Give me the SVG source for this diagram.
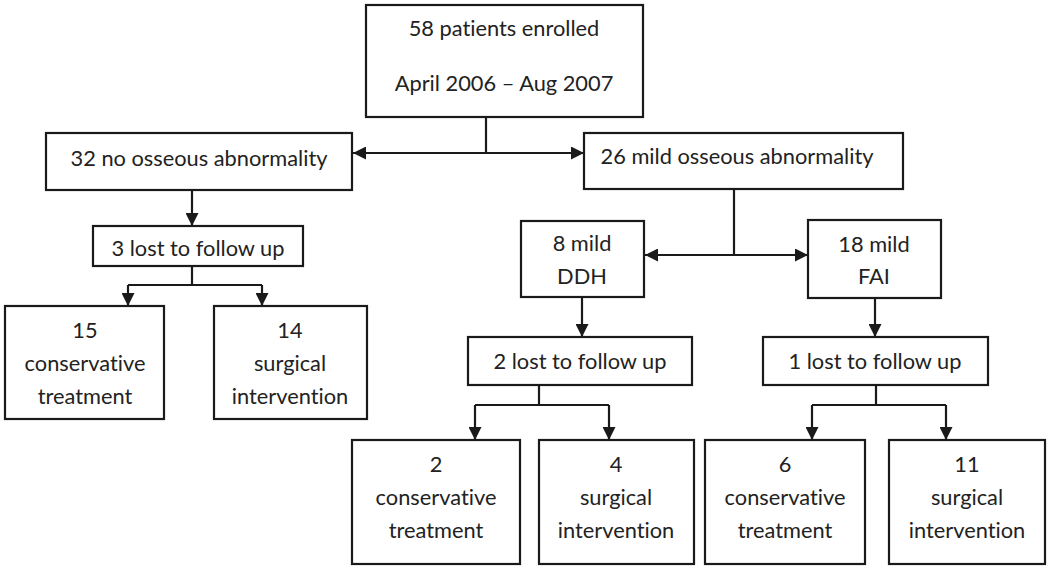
<svg xmlns="http://www.w3.org/2000/svg" width="1050" height="568" viewBox="0 0 1050 568">
<style>
.box{fill:#fff;stroke:#1a1a1a;stroke-width:2.2}
.t{font-family:Lato,"Open Sans",sans-serif;font-size:21.8px;fill:#222;text-anchor:middle;font-variant-ligatures:none;font-feature-settings:"liga" 0,"dlig" 0}
.c{fill:none;stroke:#1a1a1a;stroke-width:2.2}
</style>
<defs>
<marker id="ah" viewBox="0 0 13 13" refX="13" refY="6.5" markerWidth="13" markerHeight="13" markerUnits="userSpaceOnUse" orient="auto">
<path d="M0,0 L13,6.5 L0,13 Z" fill="#1a1a1a"/>
</marker>
</defs>
<rect width="1050" height="568" fill="#fff"/>
<g id="connectors">
<path class="c" d="M486,117 V153"/>
<path class="c" d="M486,153 H353" marker-end="url(#ah)"/>
<path class="c" d="M486,153 H584" marker-end="url(#ah)"/>
<path class="c" d="M192,190 V226" marker-end="url(#ah)"/>
<path class="c" d="M192,266 V285 M128,285 H262"/>
<path class="c" d="M128,285 V306" marker-end="url(#ah)"/>
<path class="c" d="M262,285 V306" marker-end="url(#ah)"/>
<path class="c" d="M734,189 V255"/>
<path class="c" d="M734,255 H645" marker-end="url(#ah)"/>
<path class="c" d="M734,255 H808" marker-end="url(#ah)"/>
<path class="c" d="M582,297 V337" marker-end="url(#ah)"/>
<path class="c" d="M875,298 V337" marker-end="url(#ah)"/>
<path class="c" d="M539,385 V405 M475,405 H609"/>
<path class="c" d="M475,405 V440" marker-end="url(#ah)"/>
<path class="c" d="M609,405 V440" marker-end="url(#ah)"/>
<path class="c" d="M876,385 V405 M812,405 H946"/>
<path class="c" d="M812,405 V440" marker-end="url(#ah)"/>
<path class="c" d="M946,405 V440" marker-end="url(#ah)"/>
</g>
<g id="n-enrolled">
<rect class="box" x="366" y="5" width="277" height="112"/>
<text class="t" x="504" y="36">58 patients enrolled</text>
<text class="t" x="504" y="91">April 2006 – Aug 2007</text>
</g>
<g id="n-no-osseous">
<rect class="box" x="46" y="133" width="306" height="57"/>
<text class="t" x="199" y="166">32 no osseous abnormality</text>
</g>
<g id="n-mild-osseous">
<rect class="box" x="584" y="133" width="319" height="56"/>
<text class="t" x="737" y="164">26 mild osseous abnormality</text>
</g>
<g id="n-lost3">
<rect class="box" x="93" y="226" width="210" height="40"/>
<text class="t" x="198" y="256">3 lost to follow up</text>
</g>
<g id="n-cons15">
<rect class="box" x="5" y="306" width="159" height="113"/>
<text class="t" x="85" y="338">15</text>
<text class="t" x="85" y="371">conservative</text>
<text class="t" x="85" y="404">treatment</text>
</g>
<g id="n-surg14">
<rect class="box" x="214" y="306" width="153" height="113"/>
<text class="t" x="290" y="338">14</text>
<text class="t" x="290" y="371">surgical</text>
<text class="t" x="290" y="404">intervention</text>
</g>
<g id="n-ddh">
<rect class="box" x="521" y="221" width="123" height="76"/>
<text class="t" x="582" y="251">8 mild</text>
<text class="t" x="582" y="284">DDH</text>
</g>
<g id="n-fai">
<rect class="box" x="808" y="220" width="133" height="78"/>
<text class="t" x="874" y="252">18 mild</text>
<text class="t" x="874" y="284">FAI</text>
</g>
<g id="n-lost2">
<rect class="box" x="468" y="337" width="224" height="48"/>
<text class="t" x="580" y="369">2 lost to follow up</text>
</g>
<g id="n-lost1">
<rect class="box" x="763" y="337" width="225" height="48"/>
<text class="t" x="875" y="369">1 lost to follow up</text>
</g>
<g id="n-cons2">
<rect class="box" x="352" y="440" width="168" height="124"/>
<text class="t" x="436" y="472">2</text>
<text class="t" x="436" y="505">conservative</text>
<text class="t" x="436" y="538">treatment</text>
</g>
<g id="n-surg4">
<rect class="box" x="539" y="440" width="155" height="124"/>
<text class="t" x="616" y="472">4</text>
<text class="t" x="616" y="505">surgical</text>
<text class="t" x="616" y="538">intervention</text>
</g>
<g id="n-cons6">
<rect class="box" x="705" y="440" width="160" height="124"/>
<text class="t" x="785" y="472">6</text>
<text class="t" x="785" y="505">conservative</text>
<text class="t" x="785" y="538">treatment</text>
</g>
<g id="n-surg11">
<rect class="box" x="889" y="440" width="156" height="124"/>
<text class="t" x="967" y="472">11</text>
<text class="t" x="967" y="505">surgical</text>
<text class="t" x="967" y="538">intervention</text>
</g>
</svg>
